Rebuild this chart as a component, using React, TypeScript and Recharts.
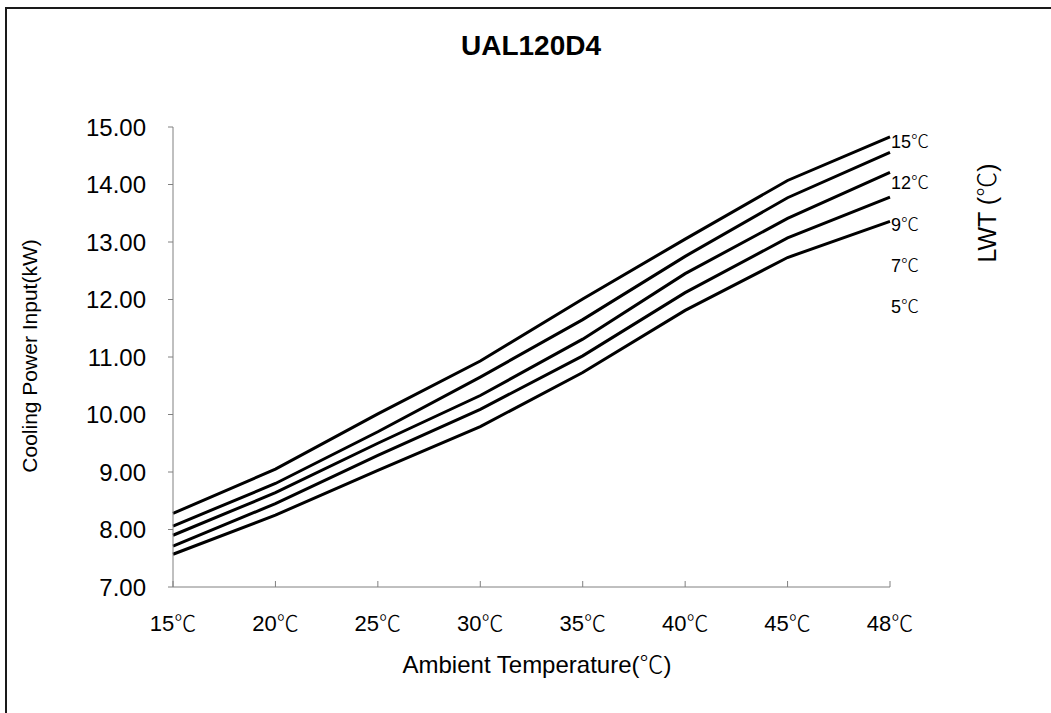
import React from "react";
import { LineChart, Line, XAxis, YAxis } from "recharts";

const categories = ["15℃", "20℃", "25℃", "30℃", "35℃", "40℃", "45℃", "48℃"];
const lwt15 = [8.28, 9.05, 10.01, 10.93, 12.01, 13.05, 14.07, 14.83];
const lwt12 = [8.06, 8.8, 9.7, 10.65, 11.65, 12.75, 13.77, 14.56];
const lwt9 = [7.9, 8.64, 9.5, 10.33, 11.31, 12.45, 13.41, 14.21];
const lwt7 = [7.71, 8.45, 9.29, 10.09, 11.02, 12.12, 13.07, 13.78];
const lwt5 = [7.57, 8.25, 9.03, 9.79, 10.73, 11.81, 12.73, 13.36];
const yTicks = [7, 8, 9, 10, 11, 12, 13, 14, 15];
const lwtLabels = ["15℃", "12℃", "9℃", "7℃", "5℃"];

const data = categories.map((c, i) => ({
  name: c,
  lwt15: lwt15[i],
  lwt12: lwt12[i],
  lwt9: lwt9[i],
  lwt7: lwt7[i],
  lwt5: lwt5[i],
}));

const FONT = '"Liberation Sans", Arial, sans-serif';
const CJK = '"Noto Sans CJK SC", sans-serif';

// draws the ℃ sign with a CJK font, like the original
const Deg = ({ text }: { text: string }) => {
  const parts = text.split("℃");
  return (
    <>
      {parts.map((p, i) => (
        <React.Fragment key={i}>
          {p && <tspan fontFamily={FONT}>{p}</tspan>}
          {i < parts.length - 1 && (
            <tspan fontFamily={CJK} fontWeight={300}>
              ℃
            </tspan>
          )}
        </React.Fragment>
      ))}
    </>
  );
};

const XTick = (props: any) => {
  const { x, y, payload } = props;
  return (
    <g>
      <line x1={x} y1={y} x2={x} y2={y - 6} stroke="#808080" strokeWidth={1} />
      <text x={x} y={y + 44} textAnchor="middle" fontSize={22} fill="#000">
        <Deg text={payload.value} />
      </text>
    </g>
  );
};

const series = ["lwt15", "lwt12", "lwt9", "lwt7", "lwt5"];

export default function App() {
  return (
    <div
      style={{
        position: "fixed",
        left: 0,
        top: 0,
        width: 1051,
        height: 713,
        overflow: "hidden",
        background: "#fff",
        fontFamily: FONT,
      }}
    >
      <div
        style={{
          position: "absolute",
          left: 5,
          top: 7,
          width: 1100,
          height: 800,
          border: "2px solid #1a1a1a",
        }}
      />
      <div style={{ position: "absolute", left: 0, top: 0 }}>
        <LineChart
          width={1051}
          height={713}
          data={data}
          margin={{ top: 127, right: 161, bottom: 66, left: 73 }}
        >
          <XAxis
            dataKey="name"
            stroke="#808080"
            tickLine={false}
            tickSize={0}
            tickMargin={0}
            tick={<XTick />}
            height={60}
            interval={0}
          />
          <YAxis
            domain={[7, 15]}
            ticks={yTicks}
            tickFormatter={(v: number) => v.toFixed(2)}
            stroke="#808080"
            tickSize={5}
            tickMargin={22}
            width={100}
            tick={{ fontSize: 24, fill: "#000", fontFamily: FONT }}
          />
          {series.map((k) => (
            <Line
              key={k}
              dataKey={k}
              stroke="#000"
              strokeWidth={3}
              dot={false}
              isAnimationActive={false}
            />
          ))}
        </LineChart>
      </div>
      <svg
        width={1051}
        height={713}
        style={{ position: "absolute", left: 0, top: 0, pointerEvents: "none" }}
      >
        <text x={531} y={55} textAnchor="middle" fontSize={28} fontWeight="bold" fontFamily={FONT}>
          UAL120D4
        </text>
        <text x={537} y={673} textAnchor="middle" fontSize={24}>
          <Deg text="Ambient Temperature(℃)" />
        </text>
        <text
          x={0}
          y={0}
          transform="translate(37,356) rotate(-90)"
          textAnchor="middle"
          fontSize={21}
          fontFamily={FONT}
        >
          Cooling Power Input(kW)
        </text>
        {lwtLabels.map((t, i) => (
          <text key={t} x={891} y={148 + i * 41.3} fontSize={18}>
            <Deg text={t} />
          </text>
        ))}
        <text
          x={0}
          y={0}
          transform="translate(996,213) rotate(-90)"
          textAnchor="middle"
          fontSize={25}
        >
          <Deg text="LWT (℃)" />
        </text>
      </svg>
    </div>
  );
}
